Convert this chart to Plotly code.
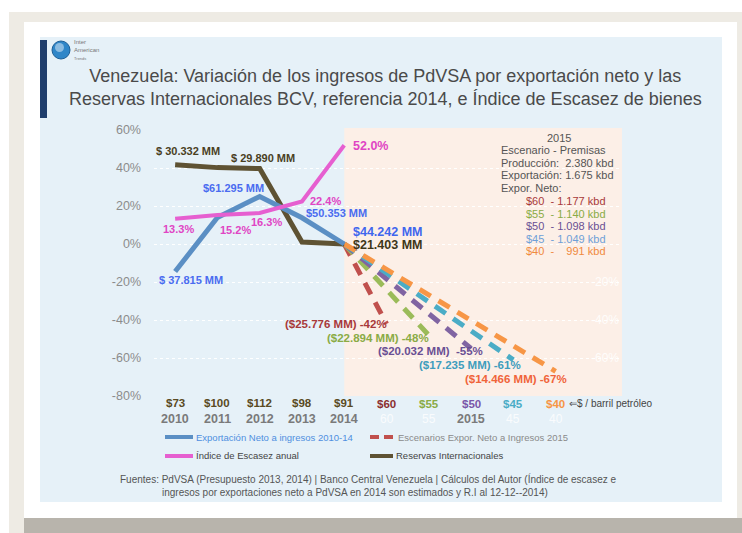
import plotly.graph_objects as go

# ---------------- data ----------------
years = ["2010", "2011", "2012", "2013", "2014"]
year_prices = ["$73", "$100", "$112", "$98", "$91"]
export_net_pct = [-14.5, 14.0, 25.0, 13.8, 0.0]
reserves_pct = [41.7, 40.2, 39.7, 1.0, 0.0]
scarcity_pct = [13.3, 15.2, 16.3, 22.4, 52.0]

scenario_prices = ["$60", "$55", "$50", "$45", "$40"]
scenario_pct = [-42, -48, -55, -61, -67]
scenario_mm = ["($25.776 MM) -42%", "($22.894 MM) -48%", "($20.032 MM)  -55%",
               "($17.235 MM) -61%", "($14.466 MM) -67%"]
scenario_kbd = ["$60  - 1.177 kbd", "$55  - 1.140 kbd", "$50  - 1.098 kbd",
                "$45  - 1.049 kbd", "$40  -    991 kbd"]
scenario_colors = ["#c0504d", "#9bbb59", "#8064a2", "#4bacc6", "#f79646"]
scenario_text_colors = ["#a8393a", "#8aab45", "#6a4f94", "#3f9dbd", "#f0643a"]
scenario_tick_colors = ["#8b2f2f", "#8aab45", "#7a56a8", "#4bacc6", "#f79646"]

export_labels = ["$ 37.815 MM", "$61.295 MM", "$50.353 MM", "$44.242 MM"]
reserve_labels = ["$ 30.332 MM", "$ 29.890 MM", "$21.403 MM"]

tickvals = [60, 40, 20, 0, -20, -40, -60, -80]
right_tickvals = [60, -20, -40, -60, -80]

# ---------------- geometry helpers ----------------
W, H = 742, 533
L, R, T, B = 154, 622, 130, 396


def px(x):
    return (x - L) / (R - L)


def py(y):
    return (B - y) / (B - T)


FONT = "Liberation Sans, Arial, Helvetica, sans-serif"
NARROW = "Liberation Sans Narrow, Arial Narrow, Liberation Sans, sans-serif"

fig = go.Figure()

xi_years = list(range(len(years)))
base_idx = len(years) - 1

# scenario dashed lines (drawn first, beneath)
for i, (v, c) in enumerate(zip(scenario_pct, scenario_colors)):
    fig.add_trace(go.Scatter(
        x=[base_idx, len(years) + i], y=[0, v], mode="lines",
        line=dict(color=c, width=5, dash="13px,9px"), showlegend=False,
        hoverinfo="skip"))

fig.add_trace(go.Scatter(x=xi_years, y=reserves_pct, mode="lines",
                         line=dict(color="#5e5233", width=5), showlegend=False))
fig.add_trace(go.Scatter(x=xi_years, y=export_net_pct, mode="lines",
                         line=dict(color="#5b8fc4", width=5), showlegend=False))
fig.add_trace(go.Scatter(x=xi_years, y=scarcity_pct, mode="lines",
                         line=dict(color="#e65fd0", width=4), showlegend=False))
# invisible trace for the faint right axis
fig.add_trace(go.Scatter(x=[None], y=[None], yaxis="y2", showlegend=False,
                         hoverinfo="skip"))

shapes = []
# page background / frame
shapes.append(dict(type="rect", xref="paper", yref="paper", x0=px(9), x1=px(742),
                   y0=py(533), y1=py(12), fillcolor="#eeebe4", line_width=0, layer="below"))
shapes.append(dict(type="rect", xref="paper", yref="paper", x0=px(24), x1=px(742),
                   y0=py(533), y1=py(518), fillcolor="#b8b4ac", line_width=0, layer="below"))
shapes.append(dict(type="rect", xref="paper", yref="paper", x0=px(24), x1=px(737),
                   y0=py(518), y1=py(22), fillcolor="#ffffff", line_width=0, layer="below"))
shapes.append(dict(type="rect", xref="paper", yref="paper", x0=px(40), x1=px(722),
                   y0=py(502), y1=py(37), fillcolor="#e6f1f8", line_width=0, layer="below"))
shapes.append(dict(type="rect", xref="paper", yref="paper", x0=px(40), x1=px(47),
                   y0=py(118), y1=py(40), fillcolor="#1f3e6c", line_width=0, layer="below"))
# logo globe
shapes.append(dict(type="circle", xref="paper", yref="paper", x0=px(52), x1=px(70),
                   y0=py(59), y1=py(41), fillcolor="#2f86c8", line=dict(color="#1c5e96", width=1),
                   layer="below"))
shapes.append(dict(type="circle", xref="paper", yref="paper", x0=px(55), x1=px(64),
                   y0=py(52), y1=py(43), fillcolor="rgba(255,255,255,0.45)", line_width=0,
                   layer="below"))
# 2015 scenario panel
shapes.append(dict(type="rect", xref="x", yref="paper", x0=base_idx, x1=10.57,
                   y0=0, y1=py(128), fillcolor="#fcefe7", line_width=0, layer="below"))

# legend symbols
shapes.append(dict(type="line", xref="paper", yref="paper", x0=px(165), x1=px(193),
                   y0=py(437), y1=py(437), line=dict(color="#5b8fc4", width=4)))
shapes.append(dict(type="line", xref="paper", yref="paper", x0=px(370), x1=px(393),
                   y0=py(437), y1=py(437), line=dict(color="#c0504d", width=4, dash="9px,5px")))
shapes.append(dict(type="line", xref="paper", yref="paper", x0=px(165), x1=px(193),
                   y0=py(456), y1=py(456), line=dict(color="#e65fd0", width=4)))
shapes.append(dict(type="line", xref="paper", yref="paper", x0=px(370), x1=px(393),
                   y0=py(456), y1=py(456), line=dict(color="#5e5233", width=4)))

ann = []


def A(text, x, y, size=11, color="#444", bold=False, xanchor="center", family=FONT, xref="paper"):
    t = f"<b>{text}</b>" if bold else text
    ann.append(dict(text=t, x=x if xref != "paper" else px(x), y=py(y), xref=xref, yref="paper",
                    xanchor=xanchor, yanchor="middle", showarrow=False,
                    font=dict(size=size, color=color, family=family)))


# title
ann.append(dict(text="Venezuela: Variación de los ingresos de PdVSA por exportación neto y las<br>"
                     "Reservas Internacionales BCV, referencia 2014, e Índice de Escasez de bienes",
                x=px(385), y=py(87), xref="paper", yref="paper", xanchor="center", yanchor="middle",
                showarrow=False, align="center",
                font=dict(size=18, color="#4a4a4a", family=FONT)))
# logo text
ann.append(dict(text="Inter<br>American<br><span style='font-size:4px'>Trends</span>",
                x=px(72), y=py(50), xref="paper", yref="paper", xanchor="left", yanchor="middle",
                showarrow=False, align="left", font=dict(size=6, color="#777", family=FONT)))

# data labels: export
A(export_labels[0], 191, 280, 11, "#4a6cf0", True)
A(export_labels[1], 233, 188, 11, "#4a6cf0", True)
A(export_labels[2], 336, 213, 11, "#4a6cf0", True)
A(export_labels[3], 387, 232, 12.5, "#3f66ee", True)
# reserves
A(reserve_labels[0], 188, 151, 11, "#4a401f", True)
A(reserve_labels[1], 263, 158, 11, "#4a401f", True)
A(reserve_labels[2], 387, 245, 12.5, "#3f3719", True)
# scarcity
for txt, x, y in zip([f"{v:.1f}%" for v in scarcity_pct[:4]], [178, 235, 266, 325], [229, 230, 222, 201]):
    A(txt, x, y, 11, "#e045c4", True)
A(f"{scarcity_pct[4]:.1f}%", 370, 146, 12.5, "#e045c4", True)

# scenario labels
for txt, c, (x, y) in zip(scenario_mm, scenario_text_colors,
                          [(336, 324), (378, 338), (430, 351), (470, 365), (516, 379)]):
    A(txt, x, y, 11.5, c, True)

# premises box
A("2015", 559, 138, 11, "#555")
for txt, y in zip(["Escenario - Premisas", "Producción:  2.380 kbd", "Exportación: 1.675 kbd",
                   "Expor. Neto:"], [150, 163, 175, 188]):
    A(txt, 499, y, 11, "#555", xanchor="left")
kbd_colors = ["#a8393a", "#8aab45", "#6a4f94", "#6fa0d8", "#f08a40"]
for i, (txt, c) in enumerate(zip(scenario_kbd, kbd_colors)):
    A(txt, 608, 201 + 12.6 * i, 11, c, xanchor="right")

# x tick labels (two-line categories)
for i, (p, yv) in enumerate(zip(year_prices, years)):
    A(p, i, 403, 11.5, "#5a4a22", True, xref="x")
    A(yv, i, 419, 12.5, "#7a7a7a", True, xref="x")
for i, (p, c) in enumerate(zip(scenario_prices, scenario_tick_colors)):
    A(p, len(years) + i, 404, 11.5, c, True, xref="x")
    if i != 2:
        A(p[1:], len(years) + i, 419, 12, "rgba(255,255,255,0.8)", False, xref="x")
A("2015", len(years) + 2, 419, 12.5, "#7a7a7a", True, xref="x")
A("⇐$ / barril petróleo", 567, 403, 10, "#444", xanchor="left")

# legend texts
A("Exportación Neto a ingresos 2010-14", 194, 437, 9.5, "#4f8fe0", xanchor="left", family=NARROW)
A("Escenarios Expor. Neto a Ingresos 2015", 396, 437, 9.5, "#8a8a8a", xanchor="left", family=NARROW)
A("Índice de Escasez anual", 194, 456, 9.5, "#444", xanchor="left", family=NARROW)
A("Reservas Internacionales", 394, 456, 9.5, "#444", xanchor="left", family=NARROW)

# footer
A("Fuentes: PdVSA (Presupuesto 2013, 2014) | Banco Central Venezuela | Cálculos del Autor (Índice de escasez e",
  118, 479, 10, "#555", xanchor="left")
A("ingresos por exportaciones neto a PdVSA en 2014 son estimados y R.I al 12-12--2014)",
  160, 492, 10, "#555", xanchor="left")

fig.update_layout(
    width=W, height=H,
    margin=dict(l=L, r=W - R, t=T, b=H - B, pad=0),
    paper_bgcolor="#ffffff", plot_bgcolor="rgba(0,0,0,0)",
    showlegend=False,
    xaxis=dict(range=[-0.5, 10.57], showgrid=False, zeroline=False, showticklabels=False,
               showline=False, fixedrange=True),
    yaxis=dict(range=[-80, 60], tickvals=tickvals, ticktext=[f"{v}%" for v in tickvals],
               showgrid=True, gridcolor="rgba(255,255,255,0.95)", griddash="dot", gridwidth=1,
               zeroline=False, showline=False, ticklabelstandoff=12,
               tickfont=dict(size=12.5, color="#8c8c8c", family=FONT)),
    yaxis2=dict(range=[-80, 60], tickvals=right_tickvals,
                ticktext=[f"{v}%" for v in right_tickvals], overlaying="y",
                side="right", showgrid=False, zeroline=False, showline=False,
                ticklabelposition="inside",
                tickfont=dict(size=12, color="rgba(255,255,255,0.85)", family=FONT)),
    shapes=shapes,
    annotations=ann,
)

fig.write_html("out.html", config={"displayModeBar": False},
               post_script="document.body.style.margin='0px';document.body.style.overflow='hidden';")
